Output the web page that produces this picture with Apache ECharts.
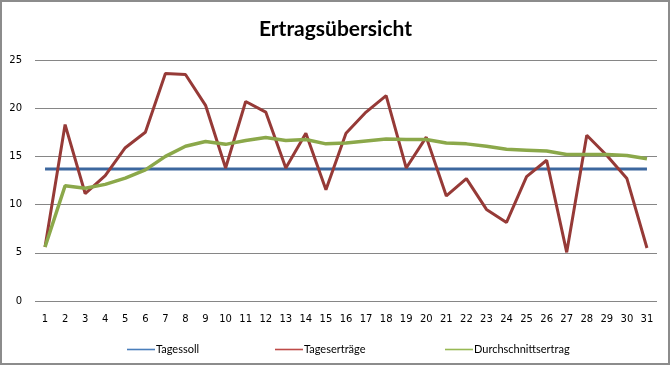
<!DOCTYPE html>
<html>
<head>
<meta charset="utf-8">
<script src="https://cdn.jsdelivr.net/npm/echarts@6/dist/echarts.min.js"></script>
<style>
html,body{margin:0;padding:0;background:#fff;}
#frame{position:absolute;left:0;top:0;width:666px;height:361px;border:2px solid #8c8c8c;}
#c{position:absolute;left:0;top:0;width:671px;height:370px;}
</style>
</head>
<body>
<div id="frame"></div>
<div id="c"></div>
<script>
const days = ['1','2','3','4','5','6','7','8','9','10','11','12','13','14','15','16','17','18','19','20','21','22','23','24','25','26','27','28','29','30','31'];
const tagessoll = [13.7,13.7,13.7,13.7,13.7,13.7,13.7,13.7,13.7,13.7,13.7,13.7,13.7,13.7,13.7,13.7,13.7,13.7,13.7,13.7,13.7,13.7,13.7,13.7,13.7,13.7,13.7,13.7,13.7,13.7,13.7];
const tagesertraege = [5.6,18.3,11.15,13.0,15.9,17.5,23.6,23.5,20.3,13.8,20.7,19.6,13.8,17.4,11.55,17.4,19.6,21.3,13.8,17.0,10.9,12.7,9.5,8.15,12.9,14.6,5.05,17.2,15.1,12.7,5.5];
const durchschnitt = [5.6,11.95,11.7,12.1,12.75,13.6,15.0,16.05,16.55,16.25,16.65,16.95,16.65,16.75,16.3,16.4,16.6,16.8,16.75,16.75,16.4,16.3,16.05,15.75,15.65,15.55,15.2,15.2,15.2,15.1,14.75];
const yTicks = {min:0, max:25, interval:5};

const chart = echarts.init(document.getElementById('c'), null, {renderer:'canvas'});
const txt = '#000';
function lg(name, left, color){
  return {
    data:[{name:name, itemStyle:{color:color}, lineStyle:{color:color, width:3}}],
    left:left, top:339, itemWidth:28, itemHeight:10, itemGap:0,
    icon:'path://M0,4.2H28V5.8H0Z',
    textStyle:{fontFamily:'Lato', fontSize:11, color:txt, padding:[0,0,0,-4]}
  };
}
chart.setOption({
  animation:false,
  backgroundColor:'transparent',
  title:{text:'Ertragsübersicht', left:'center', top:14,
    textStyle:{fontFamily:'Lato', fontWeight:'bold', fontSize:21, color:'#000'}},
  legend:[lg('Tagessoll',122,'#4A7EBB'), lg('Tageserträge',270,'#BE4B48'), lg('Durchschnittsertrag',440,'#98B954')],
  grid:{left:35, right:14, top:60, bottom:69},
  xAxis:{type:'category', data:days, boundaryGap:true,
    axisLine:{show:false}, axisTick:{show:false},
    axisLabel:{fontFamily:'DejaVu Sans', fontSize:10, color:txt, margin:13, interval:0}},
  yAxis:{type:'value', min:yTicks.min, max:yTicks.max, interval:yTicks.interval,
    axisLine:{show:false}, axisTick:{show:false},
    splitLine:{lineStyle:{color:'#868686', width:1}},
    axisLabel:{fontFamily:'DejaVu Sans', fontSize:10, color:txt, margin:13}},
  series:[
    {name:'Tagessoll', type:'line', data:tagessoll, showSymbol:false, symbol:'none',
      lineStyle:{color:'#3C679E', width:3}, itemStyle:{color:'#3C679E'}, z:2},
    {name:'Tageserträge', type:'line', data:tagesertraege, showSymbol:false, symbol:'none',
      lineStyle:{color:'#963A37', width:3}, itemStyle:{color:'#963A37'}, z:3},
    {name:'Durchschnittsertrag', type:'line', data:durchschnitt, showSymbol:false, symbol:'none',
      lineStyle:{color:'#8BA84A', width:3.5}, itemStyle:{color:'#8BA84A'}, z:4}
  ]
});
</script>
</body>
</html>
